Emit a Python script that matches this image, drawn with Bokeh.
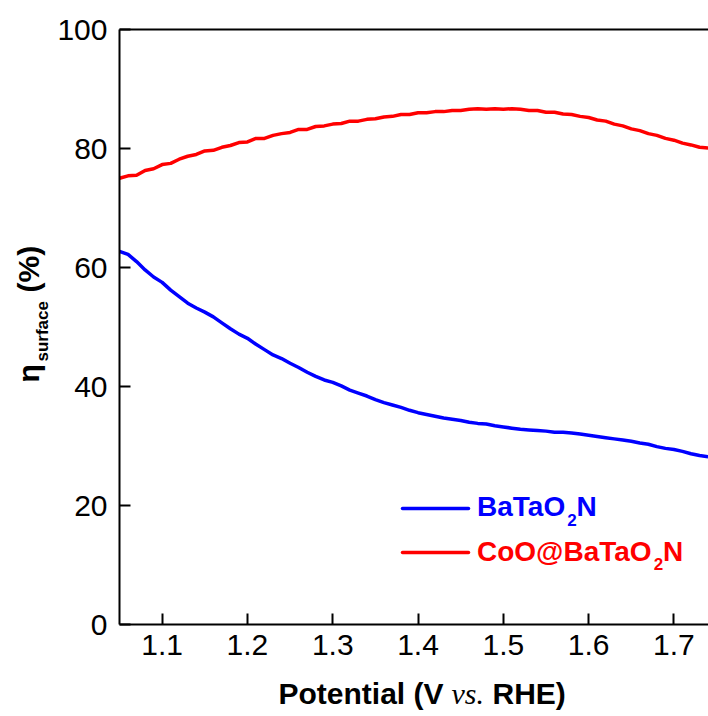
import math
from bokeh.plotting import figure
from bokeh.models import Range1d, FixedTicker, LinearAxis, Label
from bokeh.embed import file_html
from bokeh.resources import INLINE

# ---------------- data ----------------
potential = [1.05, 1.06, 1.07, 1.08, 1.09, 1.10, 1.11, 1.12, 1.13, 1.14,
             1.15, 1.16, 1.17, 1.18, 1.19, 1.20, 1.21, 1.22, 1.23, 1.24,
             1.25, 1.26, 1.27, 1.28, 1.29, 1.30, 1.31, 1.32, 1.33, 1.34,
             1.35, 1.36, 1.37, 1.38, 1.39, 1.40, 1.41, 1.42, 1.43, 1.44,
             1.45, 1.46, 1.47, 1.48, 1.49, 1.50, 1.51, 1.52, 1.53, 1.54,
             1.55, 1.56, 1.57, 1.58, 1.59, 1.60, 1.61, 1.62, 1.63, 1.64,
             1.65, 1.66, 1.67, 1.68, 1.69, 1.70, 1.71, 1.72, 1.73, 1.74]

batao2n = [62.7, 62.2, 61.0, 59.6, 58.4, 57.5, 56.2, 55.1, 54.0, 53.2,
           52.5, 51.7, 50.7, 49.7, 48.8, 48.1, 47.1, 46.2, 45.3, 44.7,
           43.9, 43.2, 42.4, 41.7, 41.1, 40.7, 40.1, 39.4, 38.9, 38.4,
           37.8, 37.3, 36.9, 36.5, 36.0, 35.6, 35.3, 35.0, 34.7, 34.5,
           34.3, 34.0, 33.8, 33.7, 33.4, 33.2, 33.0, 32.8, 32.7, 32.6,
           32.5, 32.3, 32.3, 32.2, 32.0, 31.8, 31.6, 31.4, 31.2, 31.0,
           30.8, 30.5, 30.3, 29.9, 29.6, 29.4, 29.1, 28.7, 28.4, 28.2]

coo_batao2n = [75.0, 75.4, 75.5, 76.3, 76.6, 77.3, 77.5, 78.2, 78.7, 79.0,
               79.6, 79.7, 80.2, 80.5, 81.0, 81.1, 81.7, 81.7, 82.2, 82.5,
               82.7, 83.2, 83.2, 83.7, 83.8, 84.1, 84.2, 84.6, 84.6, 84.9,
               85.0, 85.3, 85.4, 85.7, 85.7, 86.0, 86.0, 86.2, 86.2, 86.4,
               86.4, 86.6, 86.7, 86.6, 86.7, 86.6, 86.7, 86.6, 86.4, 86.4,
               86.1, 86.1, 85.8, 85.7, 85.4, 85.2, 84.8, 84.6, 84.1, 83.8,
               83.3, 83.0, 82.5, 82.2, 81.7, 81.4, 80.9, 80.6, 80.2, 80.1]

x_ticks = [1.1, 1.2, 1.3, 1.4, 1.5, 1.6, 1.7]
y_ticks = [0, 20, 40, 60, 80, 100]

# ---------------- layout (pixels of the 708x716 canvas) ----------------
W, H = 708, 716
AX_L, AX_R, AX_T, AX_B = 119, 708, 29, 624   # the drawn box of the axes
PX_PER_V = 853.0
X0 = 1.05
X1 = X0 + (AX_R - AX_L) / PX_PER_V
Y0, Y1 = 0, 100

def dx(px):
    return X0 + (px - AX_L) * (X1 - X0) / (AX_R - AX_L)

def dy(py):
    return Y1 - (py - AX_T) * (Y1 - Y0) / (AX_B - AX_T)

SANS = "Liberation Sans"
SERIF = "Liberation Serif"

# the frame fills the whole canvas; the axes are drawn at fixed locations
p = figure(width=W, height=H, output_backend="svg", toolbar_location=None,
           x_range=Range1d(dx(0), dx(W)), y_range=Range1d(dy(H), dy(0)),
           x_axis_location=None, y_axis_location=None,
           min_border_left=0, min_border_right=0,
           min_border_top=0, min_border_bottom=0)
p.outline_line_color = None
p.xgrid.grid_line_color = None
p.ygrid.grid_line_color = None
p.background_fill_color = "white"
p.border_fill_color = "white"

xax = LinearAxis(ticker=FixedTicker(ticks=x_ticks), fixed_location=Y0,
                 bounds=(X0, X1))
yax = LinearAxis(ticker=FixedTicker(ticks=y_ticks), fixed_location=X0,
                 bounds=(Y0, Y1))
for ax in (xax, yax):
    ax.axis_line_width = 2
    ax.axis_line_color = "black"
    ax.major_tick_in = 11
    ax.major_tick_out = 0
    ax.major_tick_line_width = 2
    ax.major_tick_line_color = "black"
    ax.minor_tick_line_color = None
    ax.major_label_text_font = SANS
    ax.major_label_text_font_size = "30px"
    ax.major_label_text_color = "black"
xax.major_label_standoff = 10
yax.major_label_standoff = 12
p.add_layout(xax, "below")
p.add_layout(yax, "left")

top = LinearAxis(ticker=FixedTicker(ticks=[]), fixed_location=Y1,
                 bounds=(X0, X1), axis_line_width=2, axis_line_color="black",
                 major_tick_line_color=None, minor_tick_line_color=None,
                 major_label_text_font_size="0px")
p.add_layout(top, "above")

# ---------------- data lines ----------------
p.line(potential, batao2n, line_color="#0000FF", line_width=3.5)
p.line(potential, coo_batao2n, line_color="#FF0000", line_width=3.5)

# ---------------- texts ----------------
SHIFT = 10  # baseline correction in pixels

def lab(px, py, text, size, font=SANS, style="bold", color="black", angle=0.0):
    if angle:
        px = px - SHIFT
    else:
        py = py - SHIFT
    p.add_layout(Label(x=dx(px), y=dy(py), text=text, text_font=font,
                       text_font_size=f"{size}px", text_font_style=style,
                       text_color=color, angle=angle, text_align="left",
                       text_baseline="alphabetic"))

# x-axis title
lab(278, 703, "Potential (V", 30)
lab(451, 703, "vs.", 30, font=SERIF, style="italic")
lab(492, 703, "RHE)", 30)

# y-axis title (rotated)
lab(38, 382, "\u03b7", 30, angle=math.pi / 2)
lab(52, 361, "surface", 17, angle=math.pi / 2)
lab(38, 292, "(%)", 30, angle=math.pi / 2)

# legend
p.segment(x0=[dx(402)], y0=[dy(508)], x1=[dx(468)], y1=[dy(508)],
          line_color="#0000FF", line_width=3.5, line_cap="round")
p.segment(x0=[dx(402)], y0=[dy(552)], x1=[dx(468)], y1=[dy(552)],
          line_color="#FF0000", line_width=3.5, line_cap="round")

lab(476.5, 516, "BaTaO", 28, color="#0000FF")
lab(566.7, 529, "2", 17, color="#0000FF")
lab(576.0, 516, "N", 28, color="#0000FF")

lab(476.5, 560.7, "CoO@BaTaO", 28, color="#FF0000")
lab(653.2, 573.7, "2", 17, color="#FF0000")
lab(662.5, 560.7, "N", 28, color="#FF0000")

open("out.html", "w").write(file_html(p, INLINE))
